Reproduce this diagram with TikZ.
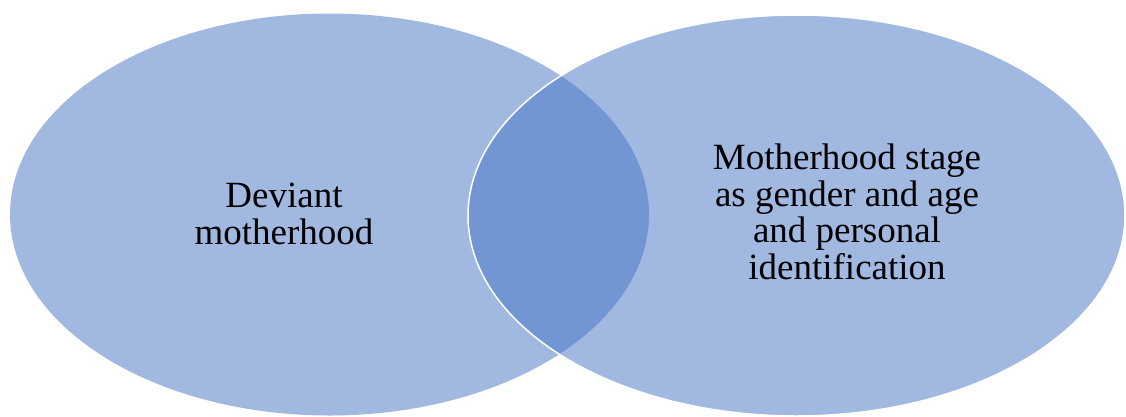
\documentclass[tikz,border=0pt]{standalone}
\usepackage{fontspec}
\setmainfont{Liberation Serif}
\usetikzlibrary{shapes.geometric}
\definecolor{accentblue}{HTML}{4472C4}
\tikzset{
  vennset/.style={ellipse, inner sep=0pt, outer sep=0pt, fill=accentblue, fill opacity=0.5},
  vennlabel/.style={align=center, text=black, inner sep=0pt, font=\fontsize{37}{36.5}\selectfont}
}
\begin{document}
\begin{tikzpicture}[x=1pt,y=-1pt]
\useasboundingbox (0,0) rectangle (1126,416);
\node[vennset, minimum width=639pt, minimum height=402pt] (left) at (329.5,214.5) {};
\node[vennset, draw=white, line width=1.5pt, draw opacity=1, minimum width=657pt, minimum height=401pt] (right) at (796.5,215.5) {};
\node[vennlabel] (lefttext) at (284,214) {Deviant\\motherhood};
\node[vennlabel] (righttext) at (847,212) {Motherhood stage\\as gender and age\\and personal\\identification};
\end{tikzpicture}
\end{document}
